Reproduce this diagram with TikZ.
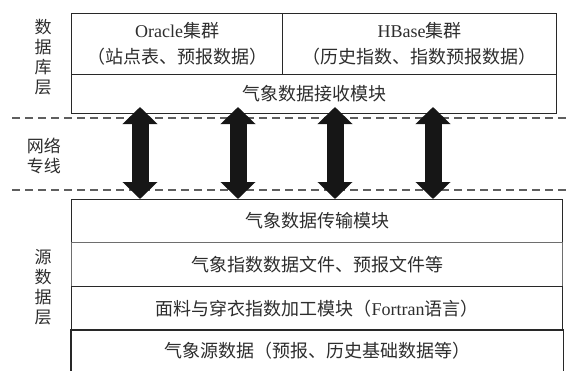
\documentclass[tikz,border=0pt]{standalone}
\usepackage{fontspec}
\setmainfont{Liberation Serif}
\newfontfamily\cjk{Noto Sans CJK SC}
\usetikzlibrary{arrows.meta}
\definecolor{linec}{RGB}{40,40,40}
\definecolor{lightlinec}{RGB}{110,110,110}
\definecolor{dashc}{RGB}{95,95,95}
\definecolor{arrc}{RGB}{22,22,22}
\definecolor{textc}{RGB}{45,45,45}
\begin{document}
\begin{tikzpicture}[x=1pt,y=-1pt,
  cell/.style={draw=linec,line width=1.1pt,anchor=north west,inner sep=0pt,align=center,text=textc,font=\fontsize{18}{26}\selectfont},
  sidelabel/.style={align=center,font=\fontsize{17}{20}\selectfont\cjk,inner sep=0pt,text=textc},
  sepline/.style={dashc,line width=1.3pt,dash pattern=on 8pt off 5pt},
  bigarrow/.style={arrc,line width=17pt,{Triangle[length=17pt,width=34pt]}-{Triangle[length=17pt,width=34pt]}}
]
\useasboundingbox (0,0) rectangle (571,370);
% database layer
\node[cell,minimum width=211pt,minimum height=61pt] (oracle) at (71,13)
  {Oracle{\cjk 集群}\\{\cjk （站点表、预报数据）}};
\node[cell,minimum width=274pt,minimum height=61pt] (hbase) at (282,13)
  {HBase{\cjk 集群}\\{\cjk （历史指数、指数预报数据）}};
\node[cell,minimum width=485pt,minimum height=39pt,font=\fontsize{18}{22}\selectfont\cjk] (recv) at (71,74)
  {气象数据接收模块};
% source layer
\node[cell,minimum width=491pt,minimum height=43pt,font=\fontsize{18}{22}\selectfont\cjk] (trans) at (71,199)
  {气象数据传输模块};
\node[cell,draw=lightlinec,minimum width=491pt,minimum height=44pt,font=\fontsize{18}{22}\selectfont\cjk] (files) at (71,242)
  {气象指数数据文件、预报文件等};
\node[cell,minimum width=491pt,minimum height=44pt,font=\fontsize{18}{22}\selectfont] (proc) at (71,286)
  {{\cjk 面料与穿衣指数加工模块（}Fortran{\cjk 语言）}};
\node[cell,draw=none,minimum width=491pt,minimum height=40pt,font=\fontsize{18}{22}\selectfont\cjk] (src) at (71,330)
  {气象源数据（预报、历史基础数据等）};
\draw[linec,line width=1.1pt] (src.south west) -- (src.north west) -- (src.north east) -- (src.south east);
% side labels
\node[sidelabel] (lbldb) at (43,57) {数\\据\\库\\层};
\node[sidelabel] (lblnet) at (44,156) {网络\\专线};
\node[sidelabel] (lblsrc) at (43,287) {源\\数\\据\\层};
% dashed separators
\coordinate (d1a) at (12,118); \coordinate (d1b) at (571,118);
\coordinate (d2a) at (12,190); \coordinate (d2b) at (571,190);
\draw[sepline] (d1a) -- (d1b);
\draw[sepline] (d2a) -- (d2b);
% arrows
\foreach \i/\x in {1/140,2/238,3/335,4/433}{
  \coordinate (t\i) at (\x,107);
  \coordinate (b\i) at (\x,199);
  \draw[bigarrow] (t\i) -- (b\i);
}
\end{tikzpicture}
\end{document}
